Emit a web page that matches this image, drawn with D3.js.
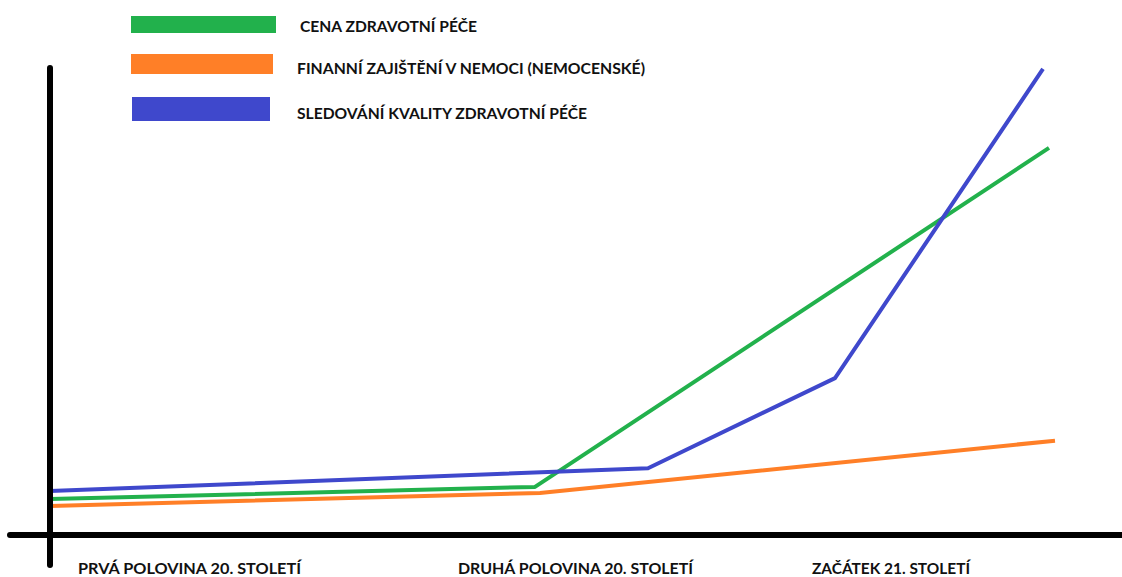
<!DOCTYPE html>
<html>
<head>
<meta charset="utf-8">
<script src="https://cdn.jsdelivr.net/npm/d3@7"></script>
<style>
  html, body { margin: 0; padding: 0; background: #ffffff; }
  svg { display: block; }
  text { font-family: Lato, "Open Sans", sans-serif; font-weight: 700; fill: #111; }
</style>
</head>
<body>
<svg id="chart" width="1122" height="577"></svg>
<script>
// Timeline position (0–100) and relative level (0–100) for each series
const greenX  = [0, 48.5, 99.9];
const greenY  = [7.7, 10.3, 82.9];
const orangeX = [0, 49.0, 100.5];
const orangeY = [6.2, 9.0, 20.2];
const blueX   = [0, 59.8, 78.5, 99.3];
const blueY   = [9.4, 14.3, 33.6, 99.8];

const seriesNames  = ["CENA ZDRAVOTNÍ PÉČE", "FINANNÍ ZAJIŠTĚNÍ V NEMOCI (NEMOCENSKÉ)", "SLEDOVÁNÍ KVALITY ZDRAVOTNÍ PÉČE"];
const seriesColors = ["#22b14c", "#ff7f27", "#3f48cc"];

// Period labels along the time axis and where on the timeline each begins
const categories  = ["PRVÁ POLOVINA 20. STOLETÍ", "DRUHÁ POLOVINA 20. STOLETÍ", "ZAČÁTEK 21. STOLETÍ"];
const categoryAt  = [2.8, 40.8, 76.2];

const svg = d3.select("#chart");

const x = d3.scaleLinear().domain([0, 100]).range([50, 1050]);
const y = d3.scaleLinear().domain([0, 100]).range([535, 68]);

const series = [
  { name: seriesNames[0], color: seriesColors[0], pts: d3.zip(greenX, greenY) },
  { name: seriesNames[1], color: seriesColors[1], pts: d3.zip(orangeX, orangeY) },
  { name: seriesNames[2], color: seriesColors[2], pts: d3.zip(blueX, blueY) }
];

const line = d3.line().x(d => x(d[0])).y(d => y(d[1]));

// Data lines (drawn first so the axis sits on top of their start)
svg.append("g")
  .selectAll("path")
  .data(series)
  .join("path")
  .attr("d", d => line(d.pts))
  .attr("fill", "none")
  .attr("stroke", d => d.color)
  .attr("stroke-width", 4)
  .attr("stroke-linejoin", "round");

// Hand-drawn style axes
const axes = svg.append("g").attr("stroke", "#000").attr("stroke-width", 6).attr("stroke-linecap", "round");
axes.append("line")
  .attr("x1", x(0)).attr("x2", x(0))
  .attr("y1", y(100)).attr("y2", 565);
axes.append("line")
  .attr("x1", 10).attr("x2", 1125)
  .attr("y1", y(0)).attr("y2", y(0));

// Period labels under the axis
const categoryWidth = [223, 235, 158];
svg.append("g")
  .selectAll("text")
  .data(categories)
  .join("text")
  .attr("x", (d, i) => x(categoryAt[i]))
  .attr("y", 574)
  .attr("font-size", 15.5)
  .attr("textLength", (d, i) => categoryWidth[i])
  .attr("lengthAdjust", "spacingAndGlyphs")
  .text(d => d);

// Legend
const legend = svg.append("g");
const legendRows = [{ top: 16, h: 17 }, { top: 54, h: 20 }, { top: 97, h: 24 }];
const swatchX = [131, 131, 132];
const swatchW = [145, 142, 138];
const labelX  = [300, 297, 297];
const labelY  = [32, 74, 119];
const labelW  = [177, 348, 290];

series.forEach((s, i) => {
  legend.append("rect")
    .attr("x", swatchX[i]).attr("y", legendRows[i].top)
    .attr("width", swatchW[i]).attr("height", legendRows[i].h)
    .attr("fill", s.color);
  legend.append("text")
    .attr("x", labelX[i]).attr("y", labelY[i])
    .attr("font-size", 15.5)
    .attr("textLength", labelW[i])
    .attr("lengthAdjust", "spacingAndGlyphs")
    .text(s.name);
});
</script>
</body>
</html>
